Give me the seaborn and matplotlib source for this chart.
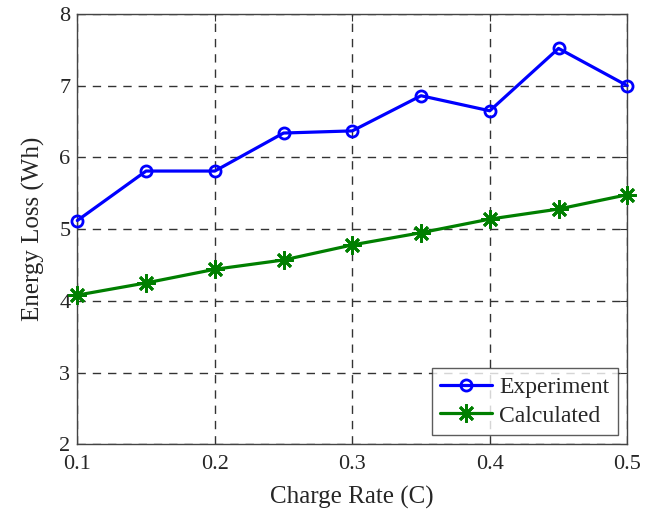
import matplotlib
matplotlib.use("Agg")
import matplotlib.pyplot as plt
import seaborn as sns
import pandas as pd

charge_rate = [0.1, 0.15, 0.2, 0.25, 0.3, 0.35, 0.4, 0.45, 0.5]
experiment = [5.12, 5.81, 5.81, 6.34, 6.37, 6.86, 6.65, 7.52, 7.00]
calculated = [4.08, 4.25, 4.44, 4.57, 4.78, 4.95, 5.14, 5.28, 5.48]
x_ticks = [0.1, 0.2, 0.3, 0.4, 0.5]
x_tick_labels = ["0.1", "0.2", "0.3", "0.4", "0.5"]
y_ticks = [2, 3, 4, 5, 6, 7, 8]

sns.set_style("white")
plt.rcParams['font.family'] = ['Liberation Serif', 'DejaVu Serif']
plt.rcParams['mathtext.fontset'] = 'stix'

fig = plt.figure(figsize=(6.63, 5.14), dpi=100)
ax = fig.add_axes([0.1166, 0.1356, 0.8295, 0.8372])

df_exp = pd.DataFrame({"x": charge_rate, "y": experiment})
df_cal = pd.DataFrame({"x": charge_rate, "y": calculated})

sns.lineplot(data=df_exp, x="x", y="y", ax=ax, color="#0000ff", linewidth=2.3,
             marker="o", markersize=8, markerfacecolor="none",
             markeredgecolor="#0000ff", markeredgewidth=2.0, label="Experiment",
             clip_on=False, zorder=5)
sns.lineplot(data=df_cal, x="x", y="y", ax=ax, color="#007f00", linewidth=2.3,
             marker=(8, 2, 0), markersize=13, markeredgecolor="#007f00",
             markeredgewidth=2.0, label="Calculated", clip_on=False, zorder=5)

ax.set_xlim(0.1, 0.5)
ax.set_ylim(2, 8)
ax.set_xticks(x_ticks)
ax.set_xticklabels(x_tick_labels)
ax.set_yticks(y_ticks)
ax.tick_params(axis="both", direction="in", labelsize=16, length=5,
               color="#333333", top=True, right=True)
ax.tick_params(axis="x", pad=8)
ax.tick_params(axis="y", pad=5)
ax.grid(True, linestyle=(0, (6, 5)), color="#333333", linewidth=1.0)
for s in ax.spines.values():
    s.set_color("#444444")
    s.set_linewidth(1.0)
ax.set_xlabel("Charge Rate (C)", fontsize=18, labelpad=8)
ax.set_ylabel("Energy Loss (Wh)", fontsize=18, labelpad=10)

leg = ax.legend(loc="lower right", fontsize=17, frameon=True, fancybox=False,
                edgecolor="#333333", handlelength=2.2, borderpad=0.35,
                labelspacing=0.3, handletextpad=0.3, borderaxespad=0.4)
leg.get_frame().set_linewidth(1.0)
leg.set_zorder(10)

fig.savefig("out.png", dpi=100)
